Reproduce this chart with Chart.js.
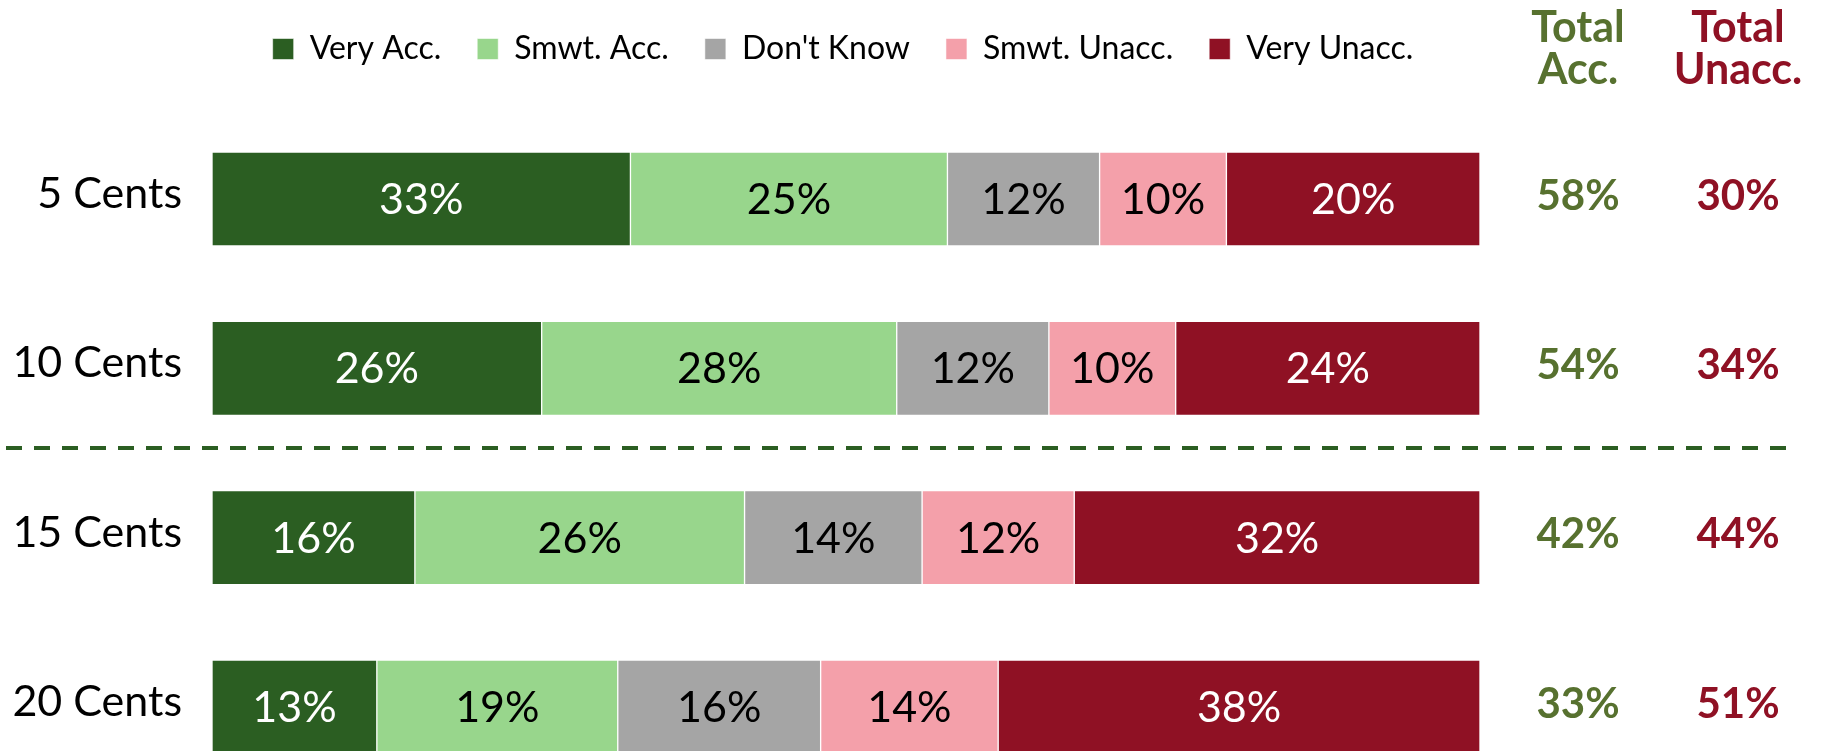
<!DOCTYPE html>
<html>
<head>
<meta charset="utf-8">
<title>Acceptability by fee</title>
<script src="https://cdn.jsdelivr.net/npm/chart.js@4.4.1/dist/chart.umd.min.js"></script>
<style>
  html, body { margin: 0; padding: 0; background: #fff; }
  canvas { display: block; }
</style>
</head>
<body>
<canvas id="graficoAceptacion" width="1821" height="751"></canvas>
<script>
// datos
const categorias = ['5 Cents', '10 Cents', '15 Cents', '20 Cents'];
const veryAcc = [33, 26, 16, 13];
const smwtAcc = [25, 28, 26, 19];
const dontKnow = [12, 12, 14, 16];
const smwtUnacc = [10, 10, 12, 14];
const veryUnacc = [20, 24, 32, 38];
const totalAcc = [58, 54, 42, 33];
const totalUnacc = [30, 34, 44, 51];

const VERDE = '#57712F';
const ROJO = '#8F1124';
const FUENTE = 'Lato, "Open Sans", sans-serif';

// textos dentro de cada segmento
const etiquetasBarras = {
    id: 'etiquetasBarras',
    afterDatasetsDraw(chart) {
        const ctx = chart.ctx;
        ctx.save();
        ctx.font = '43px ' + FUENTE;
        ctx.textAlign = 'center';
        ctx.textBaseline = 'middle';
        chart.data.datasets.forEach((ds, i) => {
            chart.getDatasetMeta(i).data.forEach((bar, j) => {
                ctx.fillStyle = ds.textColor;
                ctx.fillText(ds.data[j] + '%', (bar.x + bar.base) / 2, bar.y + 1);
            });
        });
        ctx.restore();
    }
};

// columnas Total Acc. / Total Unacc. a la derecha
const columnasTotales = {
    id: 'columnasTotales',
    afterDraw(chart) {
        const { ctx, chartArea, scales: { y } } = chart;
        const xAcc = chartArea.right + 98;
        const xUnacc = chartArea.right + 258;
        ctx.save();
        ctx.textAlign = 'center';
        ctx.textBaseline = 'middle';
        ctx.font = 'bold 43px ' + FUENTE;
        ctx.fillStyle = VERDE;
        ctx.fillText('Total', xAcc, 28);
        ctx.fillText('Acc.', xAcc, 70);
        ctx.fillStyle = ROJO;
        ctx.fillText('Total', xUnacc, 28);
        ctx.fillText('Unacc.', xUnacc, 70);
        ctx.font = 'bold 42px ' + FUENTE;
        categorias.forEach((c, i) => {
            const yy = y.getPixelForValue(i) - 3;
            ctx.fillStyle = VERDE;
            ctx.fillText(totalAcc[i] + '%', xAcc, yy);
            ctx.fillStyle = ROJO;
            ctx.fillText(totalUnacc[i] + '%', xUnacc, yy);
        });
        ctx.restore();
    }
};

// linea discontinua entre 10 y 15 centavos
const lineaDivisoria = {
    id: 'lineaDivisoria',
    beforeDatasetsDraw(chart) {
        const { ctx, scales: { y } } = chart;
        const yy = (y.getPixelForValue(1) + y.getPixelForValue(2)) / 2 - 5;
        ctx.save();
        ctx.strokeStyle = '#2B5E22';
        ctx.lineWidth = 4;
        ctx.setLineDash([16, 12]);
        ctx.beginPath();
        ctx.moveTo(6, yy);
        ctx.lineTo(1786, yy);
        ctx.stroke();
        ctx.restore();
    }
};

// mover la leyenda a su sitio
const posicionLeyenda = {
    id: 'posicionLeyenda',
    afterLayout(chart) {
        const lg = chart.legend;
        const w = lg.right - lg.left;
        const h = lg.bottom - lg.top;
        lg.left = 843 - w / 2;
        lg.right = 843 + w / 2;
        lg.top = 49 - 36 - 16;
        lg.bottom = lg.top + h;
    }
};

function serie(label, data, color, textColor) {
    return {
        label: label,
        data: data,
        backgroundColor: color,
        borderColor: 'rgba(255,255,255,0.55)',
        borderWidth: 1,
        borderSkipped: false,
        barThickness: 94,
        clip: false,
        textColor: textColor
    };
}

const ctx = document.getElementById('graficoAceptacion').getContext('2d');
new Chart(ctx, {
    type: 'bar',
    data: {
        labels: categorias,
        datasets: [
            serie('Very Acc.', veryAcc, '#2B5E22', '#FFFFFF'),
            serie('Smwt. Acc.', smwtAcc, '#98D68C', '#000000'),
            serie("Don't Know", dontKnow, '#A5A5A5', '#000000'),
            serie('Smwt. Unacc.', smwtUnacc, '#F4A0AA', '#000000'),
            serie('Very Unacc.', veryUnacc, '#8F1124', '#FFFFFF')
        ]
    },
    options: {
        indexAxis: 'y',
        responsive: false,
        animation: false,
        layout: {
            padding: { top: 121, right: 341, bottom: 44, left: 0 }
        },
        scales: {
            x: {
                stacked: true,
                min: 0,
                max: 100,
                display: false
            },
            y: {
                stacked: true,
                offset: false,
                grid: { display: false, drawTicks: false },
                border: { display: false },
                ticks: {
                    color: '#000',
                    padding: 30,
                    labelOffset: -5,
                    font: { family: FUENTE, size: 43 }
                },
                afterFit(scale) {
                    scale.width = 212;
                    scale.paddingTop = 0;
                    scale.paddingBottom = 0;
                }
            }
        },
        plugins: {
            legend: {
                position: 'top',
                labels: {
                    color: '#000',
                    boxWidth: 21,
                    boxHeight: 21,
                    padding: 36,
                    font: { family: FUENTE, size: 32 }
                }
            },
            tooltip: { enabled: false }
        }
    },
    plugins: [lineaDivisoria, etiquetasBarras, columnasTotales, posicionLeyenda]
});
</script>
</body>
</html>
